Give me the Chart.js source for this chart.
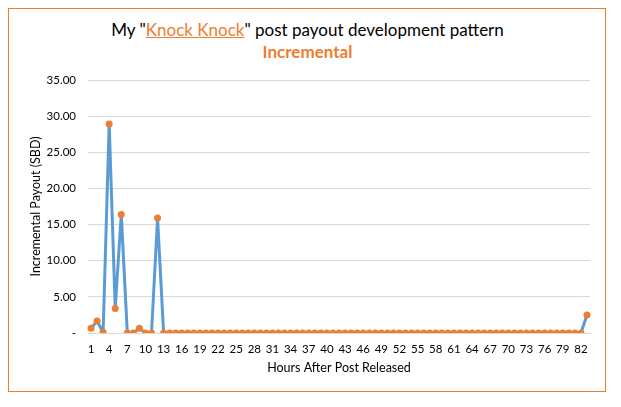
<!DOCTYPE html>
<html>
<head>
<meta charset="utf-8">
<script src="https://cdn.jsdelivr.net/npm/chart.js@4.4.1/dist/chart.umd.min.js"></script>
<style>
  body { margin: 0; background: #fff; }
  #wrap { position: relative; width: 621px; height: 407px; font-family: Lato, "Open Sans", sans-serif; }
  #frame { position: absolute; left: 8px; top: 8px; width: 598px; height: 384px; border: 1px solid #ed7d31; box-sizing: border-box; }
  .title { position: absolute; left: 8px; width: 599px; text-align: center; white-space: nowrap; }
  #t1 { top: 19px; font-size: 17px; color: #000; }
  #t1 a { color: #ed7d31; text-decoration: underline; }
  #t2 { top: 41px; font-size: 17px; font-weight: bold; color: #ed7d31; }
  canvas { position: absolute; left: 0; top: 0; }
</style>
</head>
<body>
<div id="wrap">
  <div id="frame"></div>
  <div class="title" id="t1">My "<a>Knock Knock</a>" post payout development pattern</div>
  <div class="title" id="t2">Incremental</div>
  <canvas id="payoutChart" width="621" height="407"></canvas>
</div>
<script>
// hours after release (categories)
const hours = [
  1, 2, 3, 4, 5, 6, 7, 8, 9, 10, 11, 12, 13, 14, 15, 16, 17, 18, 19, 20,
  21, 22, 23, 24, 25, 26, 27, 28, 29, 30, 31, 32, 33, 34, 35, 36, 37, 38, 39, 40,
  41, 42, 43, 44, 45, 46, 47, 48, 49, 50, 51, 52, 53, 54, 55, 56, 57, 58, 59, 60,
  61, 62, 63, 64, 65, 66, 67, 68, 69, 70, 71, 72, 73, 74, 75, 76, 77, 78, 79, 80,
  81, 82, 83
];

// incremental payout in SBD
const payout = [
  0.65, 1.65, 0.1, 28.9, 3.4, 16.4, 0, 0, 0.65, 0, 0, 15.9, 0, 0, 0, 0, 0, 0, 0, 0,
  0, 0, 0, 0, 0, 0, 0, 0, 0, 0, 0, 0, 0, 0, 0, 0, 0, 0, 0, 0,
  0, 0, 0, 0, 0, 0, 0, 0, 0, 0, 0, 0, 0, 0, 0, 0, 0, 0, 0, 0,
  0, 0, 0, 0, 0, 0, 0, 0, 0, 0, 0, 0, 0, 0, 0, 0, 0, 0, 0, 0,
  0, 0, 2.5
];

const yMax = 35;
const yStep = 5;

const ctx = document.getElementById('payoutChart').getContext('2d');
const tickFont = { family: 'Lato, "Open Sans", sans-serif', size: 11.5 };
const titleFont = { family: 'Lato, "Open Sans", sans-serif', size: 12.5 };

new Chart(ctx, {
  type: 'line',
  data: {
    labels: hours,
    datasets: [{
      label: 'Incremental',
      data: payout,
      borderColor: '#5b9bd5',
      borderWidth: 3,
      pointBackgroundColor: '#ed7d31',
      pointBorderColor: '#ed7d31',
      pointBorderWidth: 0,
      pointRadius: 3.5,
      tension: 0,
      fill: false
    }]
  },
  options: {
    responsive: false,
    animation: false,
    layout: { padding: { left: 8, right: 31, top: 80, bottom: 30 } },
    plugins: {
      legend: { display: false },
      tooltip: { enabled: false }
    },
    scales: {
      x: {
        offset: true,
        grid: { display: false, drawTicks: false },
        border: { display: true, color: '#d9d9d9', width: 1 },
        ticks: {
          autoSkip: false,
          maxRotation: 0,
          padding: 9,
          color: '#000',
          font: tickFont,
          callback: function (val, index) {
            return index % 3 === 0 ? this.getLabelForValue(val) : '';
          }
        },
        title: {
          display: true,
          text: 'Hours After Post Released',
          color: '#000',
          font: titleFont,
          padding: { top: 0, bottom: 2 }
        },
        afterFit: function (scale) { scale.height = 44; }
      },
      y: {
        min: 0,
        max: yMax,
        grid: { color: '#d9d9d9', drawTicks: false },
        border: { display: false },
        ticks: {
          stepSize: yStep,
          padding: 12,
          color: '#000',
          font: tickFont,
          callback: function (v) { return v === 0 ? '-' : v.toFixed(2); }
        },
        title: {
          display: true,
          text: 'Incremental Payout (SBD)',
          color: '#000',
          font: titleFont,
          padding: { top: 20, bottom: 0 }
        },
        afterFit: function (scale) { scale.width = 80; }
      }
    }
  }
});
</script>
</body>
</html>
